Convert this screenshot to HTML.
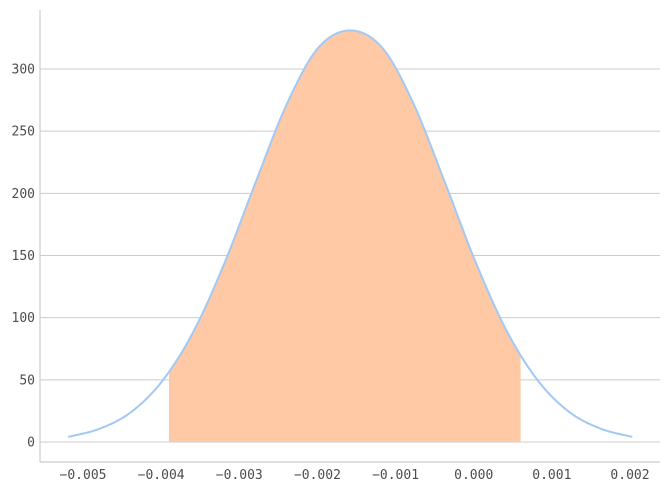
<!DOCTYPE html>
<html><head><meta charset="utf-8"><style>
body{margin:0;background:#fff}
svg text{font-family:"DejaVu Sans Mono","Liberation Mono",monospace;font-size:13px;fill:#4d4d4d}
</style></head><body>
<svg id="chart" width="669" height="491" xmlns="http://www.w3.org/2000/svg"></svg>
<script>
const xValues=[-0.00519,-0.00479,-0.00439,-0.00399,-0.00359,-0.00319,-0.00279,-0.00239,-0.00199,-0.00158,-0.00117,-0.00077,-0.00037,0.00003,0.00043,0.00083,0.00123,0.00163,0.00203];
const yValues=[4.1,10.6,23.8,48.7,88.4,143.8,209,272,317,331,317,272,209,143.8,88.4,48.7,23.8,10.6,4.1];
const shadeRange=[-0.0039,0.0006];
const xTicks=[-0.005,-0.004,-0.003,-0.002,-0.001,0.000,0.001,0.002];
const xTickLabels=["\u22120.005","\u22120.004","\u22120.003","\u22120.002","\u22120.001","0.000","0.001","0.002"];
const yTicks=[0,50,100,150,200,250,300];
const yTickLabels=["0","50","100","150","200","250","300"];

const NS="http://www.w3.org/2000/svg";
const svg=document.getElementById('chart');
const sx=v=>83+(v+0.005)*547/0.007;
const sy=v=>442-v*(373/300);
function mk(tag,attrs,parent){const e=document.createElementNS(NS,tag);for(const k in attrs)e.setAttribute(k,attrs[k]);(parent||svg).appendChild(e);return e;}

yTicks.forEach((t,i)=>{
  const g=mk('line',{x1:40,x2:660,y1:sy(t),y2:sy(t),stroke:'#cccccc','stroke-width':1});
  
  
  const l=mk('text',{x:35,y:sy(t)+4.5,'text-anchor':'end'});
  l.textContent=yTickLabels[i];
  
  
});
xTicks.forEach((t,i)=>{
  const l=mk('text',{x:sx(t),y:479,'text-anchor':'middle'});
  l.textContent=xTickLabels[i];
  
  
});

const pts=xValues.map((x,i)=>[sx(x),sy(yValues[i])]);
const dense=[];
for(let i=0;i<pts.length-1;i++){
  const p0=pts[Math.max(0,i-1)],p1=pts[i],p2=pts[i+1],p3=pts[Math.min(pts.length-1,i+2)];
  for(let s=0;s<20;s++){const t=s/20,t2=t*t,t3=t2*t;
    const f=(a,b,c,d)=>0.5*((2*b)+(-a+c)*t+(2*a-5*b+4*c-d)*t2+(-a+3*b-3*c+d)*t3);
    dense.push([f(p0[0],p1[0],p2[0],p3[0]),f(p0[1],p1[1],p2[1],p3[1])]);}
}
dense.push(pts[pts.length-1]);
const lineD='M'+dense.map(p=>p[0].toFixed(2)+','+p[1].toFixed(2)).join('L');

const defs=mk('defs',{});
const cp=mk('clipPath',{id:'shadeClip'},defs);
mk('rect',{x:sx(shadeRange[0]),y:0,width:sx(shadeRange[1])-sx(shadeRange[0]),height:442},cp);
const area=mk('path',{d:lineD+'L'+dense[dense.length-1][0]+','+sy(0)+'L'+dense[0][0]+','+sy(0)+'Z',fill:'#ffc9a6','clip-path':'url(#shadeClip)'});


const line=mk('path',{d:lineD,fill:'none',stroke:'#a1c9f4','stroke-width':2});



const ls=mk('line',{x1:40,x2:40,y1:10,y2:462,stroke:'#cccccc','stroke-width':1.2});


const bs=mk('line',{x1:40,x2:660,y1:462,y2:462,stroke:'#cccccc','stroke-width':1.2});


</script>
</body></html>
